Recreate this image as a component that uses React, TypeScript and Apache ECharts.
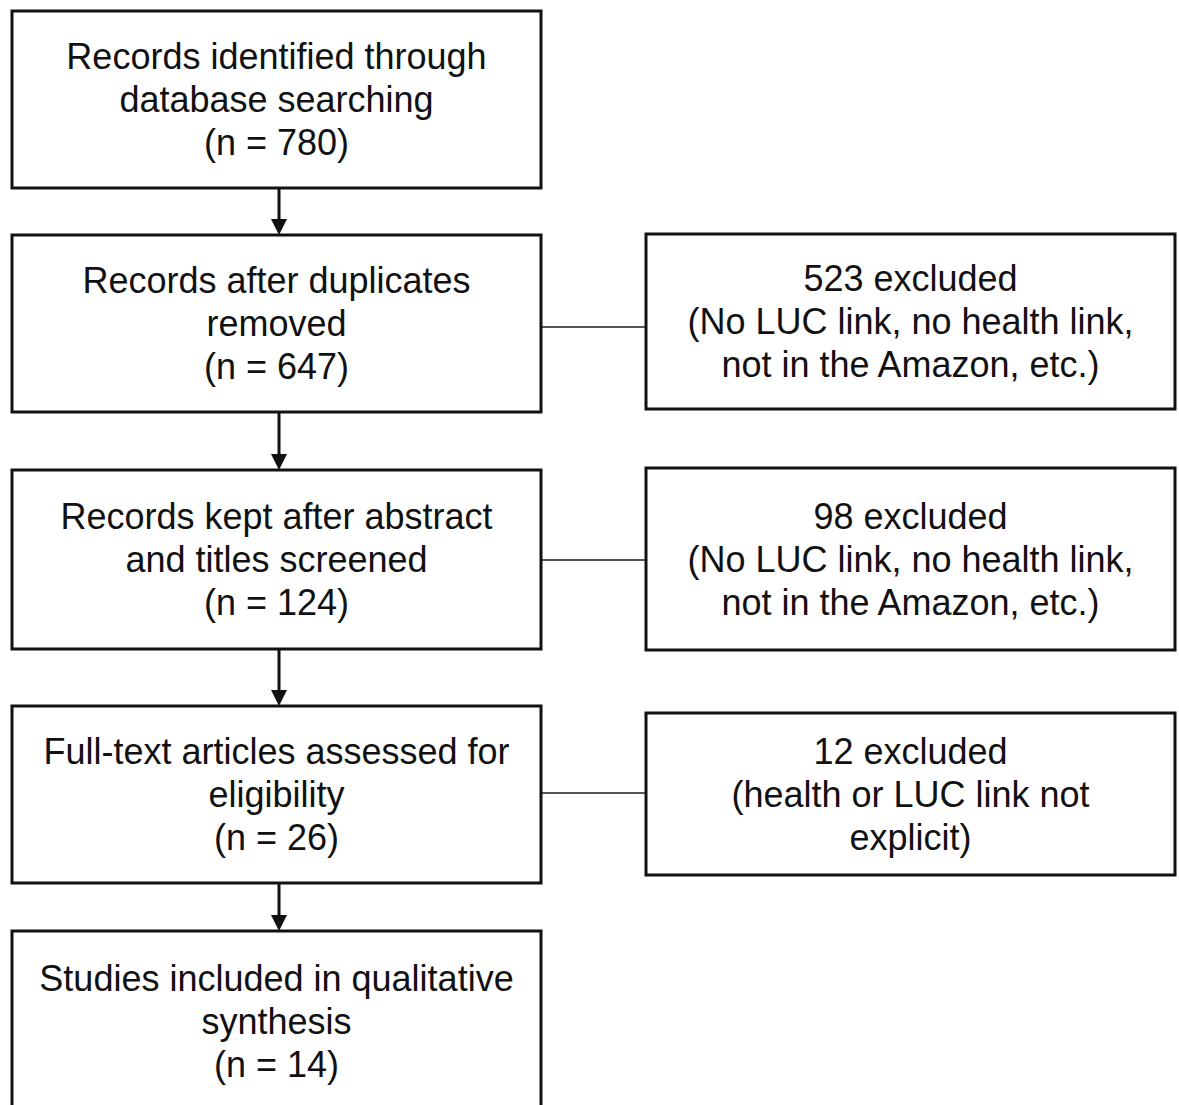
import React, { useEffect, useRef } from "react";
import * as echarts from "echarts";

// Main flow (left column)
const mainLabels: string[][] = [
  ["Records identified through", "database searching"],
  ["Records after duplicates", "removed"],
  ["Records kept after abstract", "and titles screened"],
  ["Full-text articles assessed for", "eligibility"],
  ["Studies included in qualitative", "synthesis"],
];
const mainCounts: number[] = [780, 647, 124, 26, 14];

// Exclusions (right column), attached to main boxes 2..4
const excludedCounts: number[] = [523, 98, 12];
const excludedReasons: string[][] = [
  ["(No LUC link, no health link,", "not in the Amazon, etc.)"],
  ["(No LUC link, no health link,", "not in the Amazon, etc.)"],
  ["(health or LUC link not", "explicit)"],
];

export default function App() {
  const ref = useRef<HTMLDivElement>(null);
  useEffect(() => {
    if (!ref.current) return;
    const chart = echarts.init(ref.current, null, { renderer: "svg" });

    const FONT = "36px 'Liberation Sans', Arial, sans-serif";
    const LH = 43;
    const leftX = 12, leftW = 529;
    const rightX = 646, rightW = 529;
    const leftTops = [11, 235, 470, 706, 931];
    const leftHeights = [177, 177, 179, 177, 180];
    const rightTops = [234, 468, 713];
    const rightHeights = [175, 182, 162];
    const connectorY = [327, 560, 793];
    const arrowX = 279;

    const elements: any[] = [];
    const textLines = (lines: string[], cx: number, cy: number) => {
      const n = lines.length;
      lines.forEach((t, i) => {
        elements.push({
          type: "text",
          z: 10,
          style: {
            text: t,
            x: cx,
            y: cy + (i - (n - 1) / 2) * LH,
            textAlign: "center",
            textVerticalAlign: "middle",
            font: FONT,
            fill: "#111",
          },
        });
      });
    };

    // arrows
    for (let i = 0; i < mainLabels.length - 1; i++) {
      const y1 = leftTops[i] + leftHeights[i];
      const y2 = leftTops[i + 1];
      elements.push({
        type: "line",
        shape: { x1: arrowX, y1, x2: arrowX, y2: y2 - 12 },
        style: { stroke: "#111", lineWidth: 3 },
      });
      elements.push({
        type: "polygon",
        shape: {
          points: [
            [arrowX - 8, y2 - 16],
            [arrowX + 8, y2 - 16],
            [arrowX, y2],
          ],
        },
        style: { fill: "#111" },
      });
    }

    // connectors
    excludedCounts.forEach((_, j) => {
      elements.push({
        type: "line",
        shape: { x1: leftX + leftW, y1: connectorY[j], x2: rightX, y2: connectorY[j] },
        style: { stroke: "#555", lineWidth: 2 },
      });
    });

    // main boxes
    mainLabels.forEach((lines, i) => {
      elements.push({
        type: "rect",
        shape: { x: leftX, y: leftTops[i], width: leftW, height: leftHeights[i] },
        style: { fill: "#fff", stroke: "#111", lineWidth: 3 },
      });
      textLines(
        [...lines, `(n = ${mainCounts[i]})`],
        leftX + leftW / 2,
        leftTops[i] + leftHeights[i] / 2
      );
    });

    // exclusion boxes
    excludedCounts.forEach((c, j) => {
      elements.push({
        type: "rect",
        shape: { x: rightX, y: rightTops[j], width: rightW, height: rightHeights[j] },
        style: { fill: "#fff", stroke: "#111", lineWidth: 3 },
      });
      textLines(
        [`${c} excluded`, ...excludedReasons[j]],
        rightX + rightW / 2,
        rightTops[j] + rightHeights[j] / 2
      );
    });

    chart.setOption({
      animation: false,
      backgroundColor: "#fff",
      graphic: { elements },
    });
    return () => chart.dispose();
  }, []);

  return (
    <div
      ref={ref}
      style={{ position: "fixed", left: 0, top: 0, width: 1179, height: 1105 }}
    />
  );
}
